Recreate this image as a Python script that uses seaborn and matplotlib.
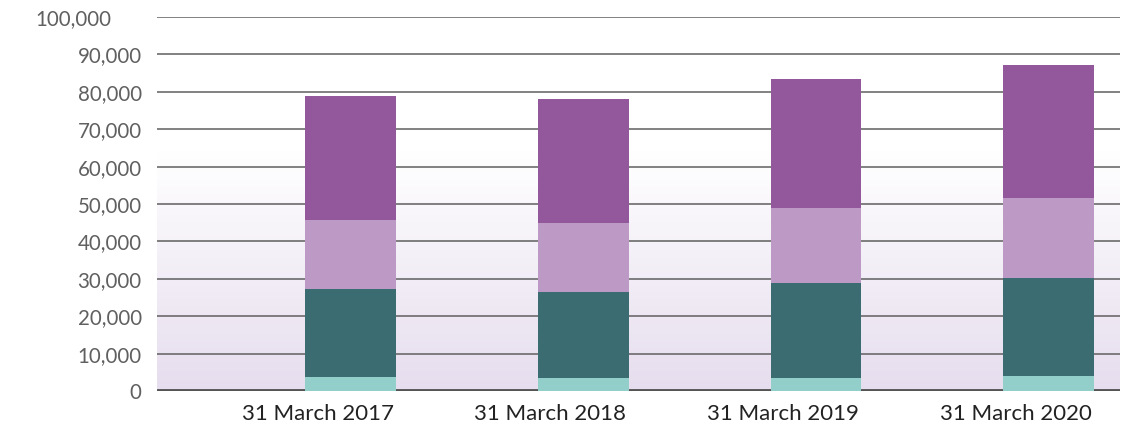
import numpy as np
import pandas as pd
import matplotlib
matplotlib.use("Agg")
import matplotlib.pyplot as plt
import matplotlib.transforms as mtransforms
from matplotlib.colors import LinearSegmentedColormap
import seaborn as sns

# Data (stacked segments, bottom to top)
years = ["31 March 2017", "31 March 2018", "31 March 2019", "31 March 2020"]
seg_light_teal = [3700, 3350, 3600, 3900]
seg_dark_teal = [23450, 23000, 25150, 26200]
seg_light_purple = [18450, 18450, 20300, 21400]
seg_purple = [33150, 33150, 34250, 35550]

y_ticks = list(range(0, 100001, 10000))

colors = ["#93CFCA", "#3B6C71", "#BD9AC6", "#93589B"]
layers = [seg_light_teal, seg_dark_teal, seg_light_purple, seg_purple]

sns.set_style("white")
plt.rcParams["font.family"] = ["Lato", "DejaVu Sans"]

fig = plt.figure(figsize=(11.24, 4.32), dpi=100)
ax = fig.add_axes([157 / 1124, 41 / 432, (1120 - 157) / 1124, (391 - 17) / 432])

# cumulative tops, drawn from the top layer down so lower segments overlay
cum = np.cumsum(np.array(layers), axis=0)
bar_w = 0.39
for i in range(len(layers) - 1, -1, -1):
    df = pd.DataFrame({"year": years, "value": cum[i]})
    sns.barplot(data=df, x="year", y="value", color=colors[i], saturation=1,
                width=bar_w, errorbar=None, ax=ax, zorder=2,
                linewidth=0, edgecolor="none")

xmin, xmax = -0.832, 3.307
ax.set_xlim(xmin, xmax)
ax.set_ylim(0, 100000)

# soft background gradient: white at top fading to lavender near the bottom
grad = np.linspace(0, 1, 256).reshape(-1, 1)
cmap = LinearSegmentedColormap.from_list(
    "bg", [(0, "#E6DDEE"), (0.64, "#FFFFFF"), (1, "#FFFFFF")])
ax.imshow(grad, cmap=cmap, origin="lower", aspect="auto",
          extent=(xmin, xmax, 0, 100000), zorder=0)

ax.set_yticks(y_ticks)
ax.set_yticklabels([f"{v:,}" for v in y_ticks])
ax.yaxis.grid(True, color="#5f5f5f", lw=1.1)
ax.set_axisbelow(True)
ax.axhline(0, color="#555555", lw=3.5, zorder=1.5)

ax.set_xticks([i + bar_w / 2 - 0.01 for i in range(len(years))])
ax.set_xticklabels(years, ha="right")

ax.tick_params(axis="y", length=0, pad=11, labelsize=14.8, labelcolor="#606060")
ax.tick_params(axis="x", length=0, pad=9, labelsize=16, labelcolor="#222222")
ax.set_xlabel("")
ax.set_ylabel("")
for s in ax.spines.values():
    s.set_visible(False)

# the top label sits further left in the original
top_lab = ax.get_yticklabels()[-1]
top_lab.set_transform(top_lab.get_transform() +
                      mtransforms.ScaledTranslation(-0.30, 0, fig.dpi_scale_trans))

fig.savefig("out.png", dpi=100)
